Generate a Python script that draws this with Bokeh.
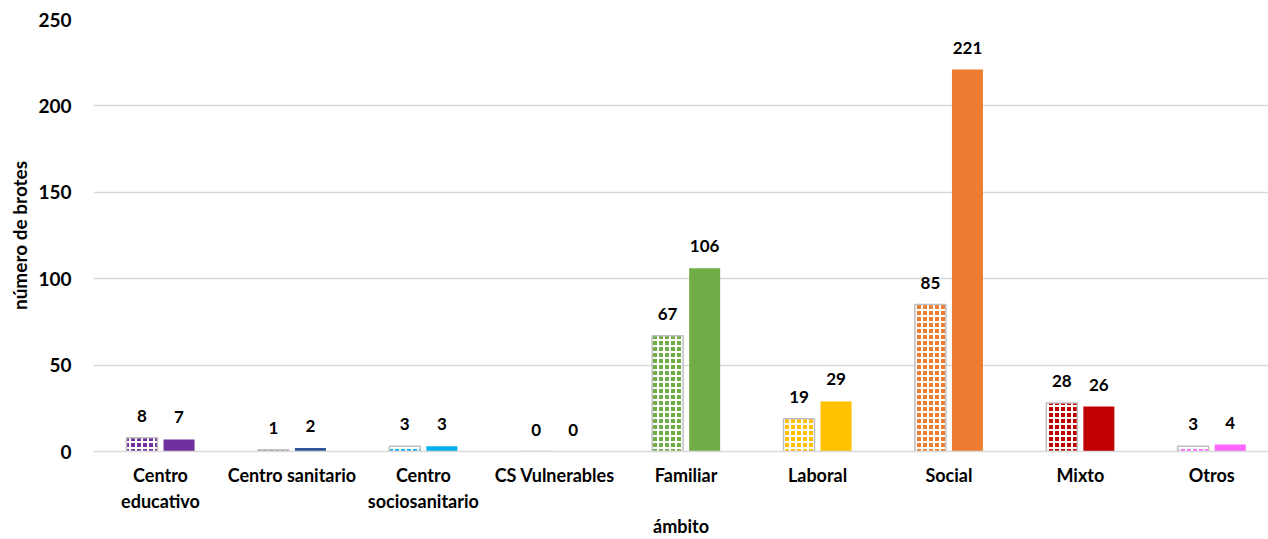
from bokeh.plotting import figure
from bokeh.models import Range1d, FixedTicker, ColumnDataSource, LabelSet
from bokeh.core.properties import value
from bokeh.embed import file_html
from bokeh.resources import INLINE

categories = ["Centro\neducativo", "Centro sanitario", "Centro\nsociosanitario", "CS Vulnerables",
              "Familiar", "Laboral", "Social", "Mixto", "Otros"]
serie_anterior = [8, 1, 3, 0, 67, 19, 85, 28, 3]
serie_actual = [7, 2, 3, 0, 106, 29, 221, 26, 4]
colores = ["#7030A0", "#2F5597", "#00B0F0", "#A5A5A5", "#70AD47", "#FFC000", "#ED7D31", "#C00000", "#FF66FF"]
y_ticks = [0, 50, 100, 150, 200, 250]

FONT = "Lato"
idx = list(range(len(categories)))
off = 0.141
bw = 0.236

src_a = ColumnDataSource(dict(x=[i - off for i in idx], top=serie_anterior, color=colores,
                              lab=[str(v) for v in serie_anterior]))
src_b = ColumnDataSource(dict(x=[i + off for i in idx], top=serie_actual, color=colores,
                              lab=[str(v) for v in serie_actual]))

p = figure(width=1268, height=539, output_backend="svg", toolbar_location=None,
           x_range=Range1d(-0.51, 8.432), y_range=Range1d(0, 250),
           min_border_left=93, min_border_right=0, min_border_top=19, min_border_bottom=88)
p.outline_line_color = None
p.background_fill_color = "white"
p.border_fill_color = "white"

p.vbar(x="x", top="top", width=bw, source=src_a, fill_color="color",
       hatch_pattern="cross", hatch_color="white", hatch_scale=6, hatch_weight=2,
       line_color="#BFBFBF", line_width=1.5)
p.vbar(x="x", top="top", width=bw, source=src_b, fill_color="color", line_color=None)

for s in (src_a, src_b):
    p.add_layout(LabelSet(x="x", y="top", text="lab", source=s, text_align="center",
                          text_baseline="bottom", y_offset=16, text_font=value(FONT),
                          text_font_style="bold", text_font_size="17px", text_color="black"))

p.xaxis.ticker = FixedTicker(ticks=idx)
p.xaxis.major_label_overrides = {i: c for i, c in zip(idx, categories)}
p.xaxis.major_tick_line_color = None
p.xaxis.minor_tick_line_color = None
p.xaxis.axis_line_color = "#D9D9D9"
p.xaxis.axis_line_width = 1.5
p.xaxis.major_label_text_font = FONT
p.xaxis.major_label_text_font_style = "bold"
p.xaxis.major_label_text_font_size = "18px"
p.xaxis.major_label_text_color = "black"
p.xaxis.major_label_standoff = 6
p.xaxis.axis_label = "ámbito"
p.xaxis.axis_label_text_font = FONT
p.xaxis.axis_label_text_font_style = "bold"
p.xaxis.axis_label_text_font_size = "18px"
p.xaxis.axis_label_text_color = "black"
p.xaxis.axis_label_standoff = 0

p.yaxis.ticker = FixedTicker(ticks=y_ticks)
p.yaxis.axis_line_color = None
p.yaxis.major_tick_line_color = None
p.yaxis.minor_tick_line_color = None
p.yaxis.major_label_text_font = FONT
p.yaxis.major_label_text_font_style = "bold"
p.yaxis.major_label_text_font_size = "19px"
p.yaxis.major_label_text_color = "black"
p.yaxis.major_label_standoff = 16
p.yaxis.axis_label = "número de brotes"
p.yaxis.axis_label_text_font = FONT
p.yaxis.axis_label_text_font_style = "bold"
p.yaxis.axis_label_text_font_size = "19px"
p.yaxis.axis_label_text_color = "black"
p.yaxis.axis_label_standoff = 4

p.xgrid.grid_line_color = None
p.ygrid.grid_line_color = "#D9D9D9"
p.ygrid.grid_line_width = 1.5

open("out.html", "w").write(file_html(p, INLINE))
